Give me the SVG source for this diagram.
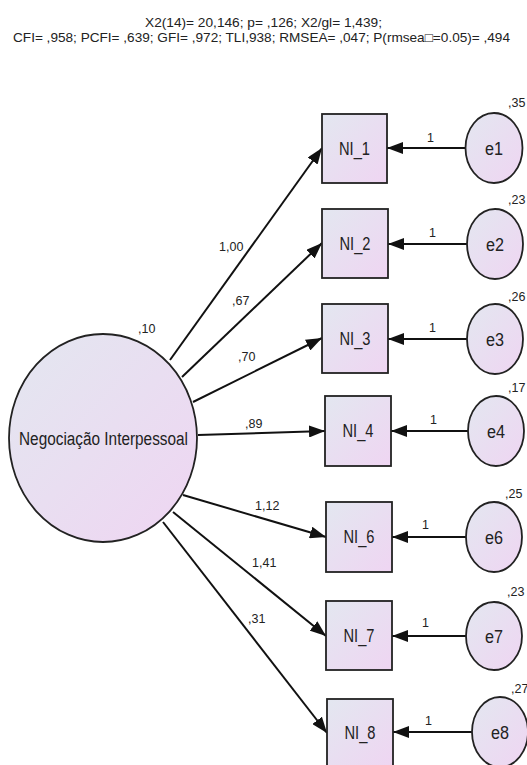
<svg xmlns="http://www.w3.org/2000/svg" width="527" height="765" viewBox="0 0 527 765">
  <defs>
    <linearGradient id="fill" x1="0" y1="0" x2="1" y2="1">
      <stop offset="0" stop-color="#e3e7f0"/>
      <stop offset="1" stop-color="#efd5f2"/>
    </linearGradient>
    <marker id="arrow" markerUnits="userSpaceOnUse" markerWidth="16" markerHeight="12" refX="16" refY="6" orient="auto">
      <path d="M0,0 L16,6 L0,12 z" fill="#111"/>
    </marker>
  </defs>
  <style>
    text { font-family: "Liberation Sans", Arial, sans-serif; fill: #222; }
    .title { font-size: 13px; text-anchor: middle; }
    .node { fill: url(#fill); stroke: #222; stroke-width: 1.8; }
    .lbl { font-size: 18px; text-anchor: middle; }
    .num { font-size: 12.5px; }
    .conn path { fill: none; stroke: #111; stroke-width: 2; marker-end: url(#arrow); }
  </style>

  <rect width="527" height="765" fill="#fff"/>

  <!-- fit statistics -->
  <text class="title" x="263.5" y="27" textLength="237" lengthAdjust="spacingAndGlyphs">X2(14)= 20,146; p= ,126; X2/gl= 1,439;</text>
  <text class="title" x="261.5" y="42" textLength="497" lengthAdjust="spacingAndGlyphs">CFI= ,958; PCFI= ,639; GFI= ,972; TLI,938; RMSEA= ,047; P(rmsea□=0.05)= ,494</text>

  <!-- paths -->
  <g id="connectors" class="conn">
    <path d="M170,360 L322,148"/>
    <path d="M182,377 L322,243"/>
    <path d="M193,402 L322,338"/>
    <path d="M198,435 L325,431"/>
    <path d="M183,495 L326,537"/>
    <path d="M173,512 L326,636"/>
    <path d="M163,522 L327,733"/>
    <path d="M466,148 L387,148"/>
    <path d="M467,244 L388,244"/>
    <path d="M467,339 L388,339"/>
    <path d="M468,431 L391,431"/>
    <path d="M466,537 L392,537"/>
    <path d="M467,636 L392,636"/>
    <path d="M472,732 L393,732"/>
  </g>

  <!-- loading and error weights -->
  <g id="weights" class="num">
    <text x="219" y="251">1,00</text>
    <text x="232" y="305">,67</text>
    <text x="238" y="361">,70</text>
    <text x="245" y="428">,89</text>
    <text x="255" y="510">1,12</text>
    <text x="252" y="567">1,41</text>
    <text x="248" y="623">,31</text>
    <text x="427" y="142">1</text>
    <text x="429" y="237">1</text>
    <text x="429" y="332">1</text>
    <text x="430" y="424">1</text>
    <text x="422" y="529">1</text>
    <text x="422" y="627">1</text>
    <text x="425" y="725">1</text>
  </g>

  <!-- latent factor -->
  <g id="factor">
    <ellipse class="node" cx="103" cy="438" rx="94" ry="104"/>
    <text class="lbl" x="103.5" y="445" textLength="169" lengthAdjust="spacingAndGlyphs">Negociação Interpessoal</text>
    <text class="num" x="138" y="333">,10</text>
  </g>

  <!-- observed indicators -->
  <g id="NI_1"><rect class="node" x="322" y="114" width="65" height="69"/><text class="lbl" x="354.5" y="155" textLength="31" lengthAdjust="spacingAndGlyphs">NI_1</text></g>
  <g id="NI_2"><rect class="node" x="322" y="209" width="66" height="69"/><text class="lbl" x="355" y="250" textLength="31" lengthAdjust="spacingAndGlyphs">NI_2</text></g>
  <g id="NI_3"><rect class="node" x="322" y="304" width="66" height="69"/><text class="lbl" x="355" y="345" textLength="31" lengthAdjust="spacingAndGlyphs">NI_3</text></g>
  <g id="NI_4"><rect class="node" x="325" y="396" width="66" height="70"/><text class="lbl" x="358" y="437" textLength="31" lengthAdjust="spacingAndGlyphs">NI_4</text></g>
  <g id="NI_6"><rect class="node" x="326" y="502" width="66" height="70"/><text class="lbl" x="359" y="543" textLength="31" lengthAdjust="spacingAndGlyphs">NI_6</text></g>
  <g id="NI_7"><rect class="node" x="326" y="601" width="66" height="69"/><text class="lbl" x="359" y="642" textLength="31" lengthAdjust="spacingAndGlyphs">NI_7</text></g>
  <g id="NI_8"><rect class="node" x="327" y="699" width="66" height="69"/><text class="lbl" x="360" y="739" textLength="31" lengthAdjust="spacingAndGlyphs">NI_8</text></g>

  <!-- error terms -->
  <g id="e1"><ellipse class="node" cx="494" cy="148" rx="28.5" ry="35"/><text class="lbl" x="494" y="155" textLength="18" lengthAdjust="spacingAndGlyphs">e1</text><text class="num" x="508" y="107">,35</text></g>
  <g id="e2"><ellipse class="node" cx="495" cy="244" rx="28" ry="35"/><text class="lbl" x="495" y="251" textLength="18" lengthAdjust="spacingAndGlyphs">e2</text><text class="num" x="508" y="204">,23</text></g>
  <g id="e3"><ellipse class="node" cx="495" cy="339" rx="28" ry="35"/><text class="lbl" x="495" y="346" textLength="18" lengthAdjust="spacingAndGlyphs">e3</text><text class="num" x="508" y="301">,26</text></g>
  <g id="e4"><ellipse class="node" cx="496" cy="431" rx="28" ry="35"/><text class="lbl" x="496" y="438" textLength="18" lengthAdjust="spacingAndGlyphs">e4</text><text class="num" x="508" y="392">,17</text></g>
  <g id="e6"><ellipse class="node" cx="494" cy="537" rx="28" ry="35"/><text class="lbl" x="494" y="544" textLength="18" lengthAdjust="spacingAndGlyphs">e6</text><text class="num" x="505" y="498">,25</text></g>
  <g id="e7"><ellipse class="node" cx="494" cy="636" rx="28" ry="34"/><text class="lbl" x="494" y="643" textLength="18" lengthAdjust="spacingAndGlyphs">e7</text><text class="num" x="507" y="596">,23</text></g>
  <g id="e8"><ellipse class="node" cx="500" cy="732" rx="28" ry="35"/><text class="lbl" x="500" y="739" textLength="18" lengthAdjust="spacingAndGlyphs">e8</text><text class="num" x="511" y="693">,27</text></g>
</svg>
